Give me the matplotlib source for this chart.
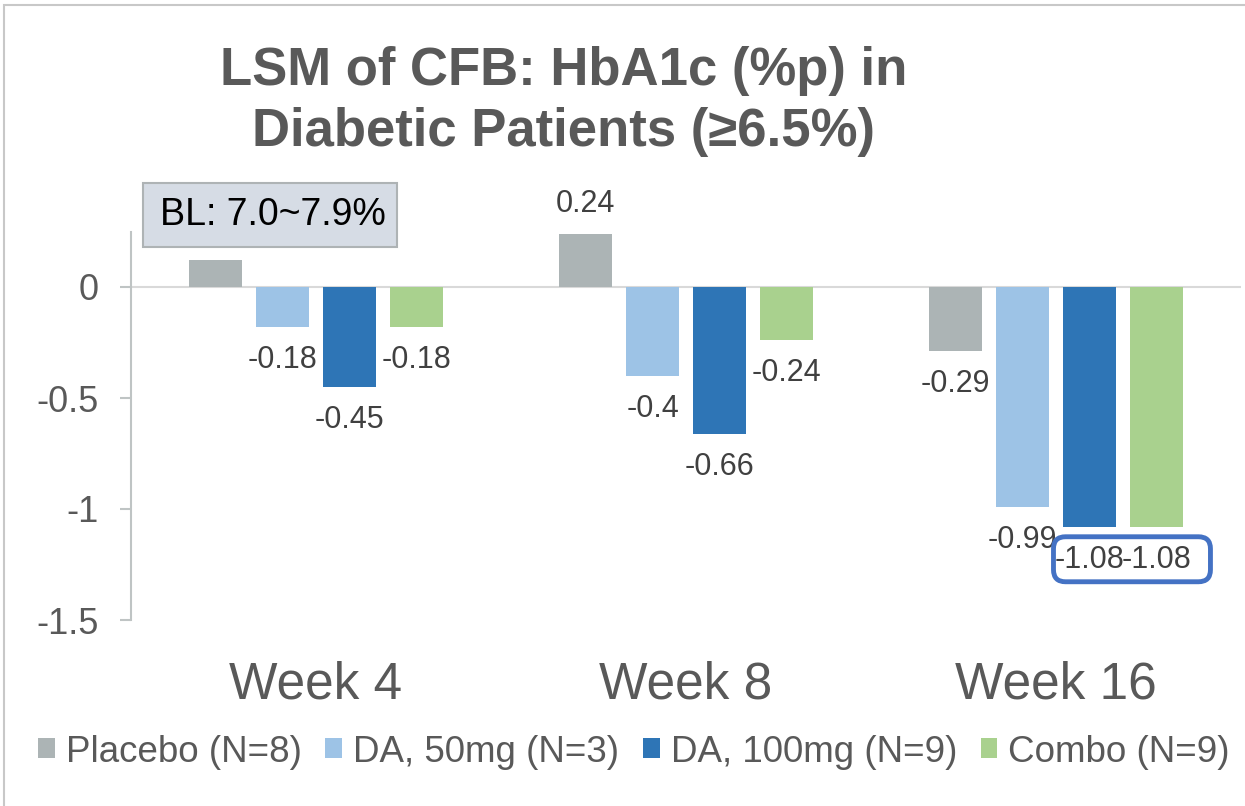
import numpy as np
import matplotlib
matplotlib.use("Agg")
import matplotlib.pyplot as plt
from matplotlib.patches import Rectangle, FancyBboxPatch
from matplotlib.transforms import IdentityTransform

plt.rcParams['font.family'] = ['Liberation Sans', 'DejaVu Sans']
plt.rcParams['axes.unicode_minus'] = False

# data
weeks = ["Week 4", "Week 8", "Week 16"]
series_names = ["Placebo (N=8)", "DA, 50mg (N=3)", "DA, 100mg (N=9)", "Combo (N=9)"]
placebo = [0.12, 0.24, -0.29]
da_50 = [-0.18, -0.4, -0.99]
da_100 = [-0.45, -0.66, -1.08]
combo = [-0.18, -0.24, -1.08]
y_ticks = [0, -0.5, -1, -1.5]
y_tick_labels = ["0", "-0.5", "-1", "-1.5"]
# the week 4 placebo label sits under the BL box in the original, so it is not shown
hidden_labels = [("Placebo (N=8)", "Week 4")]

colors = ['#ACB4B5', '#9DC3E6', '#2E75B6', '#A9D18E']
all_series = [placebo, da_50, da_100, combo]

W, H = 1245, 806
fig = plt.figure(figsize=(W / 100, H / 100), dpi=100)
ax = fig.add_axes([131 / W, 1 - 620 / H, 1110 / W, 388.5 / H])

x = np.arange(len(weeks))
step = 0.181
width = 0.143
centers = []
for i, (vals, name, col) in enumerate(zip(all_series, series_names, colors)):
    pos = x + (i - 1.5) * step
    centers.append(pos)
    ax.bar(pos, vals, width, color=col, label=name, zorder=2)
    for p, v, wk in zip(pos, vals, weeks):
        if (name, wk) in hidden_labels:
            continue
        dy = 21.6 if v >= 0 else -23.8
        ax.annotate(f"{v:g}", (p, v), xytext=(0, dy), textcoords='offset points',
                    ha='center', va='center', fontsize=22, color='#404040', zorder=3)

ax.set_xlim(-0.5, 2.5)
ax.set_ylim(-1.5, 0.25)
ax.set_xticks(x)
ax.set_xticklabels(weeks)
ax.set_yticks(y_ticks)
ax.set_yticklabels(y_tick_labels)
ax.axhline(0, color='#D9D9D9', lw=1.5, zorder=1)

for s in ['top', 'right', 'bottom']:
    ax.spines[s].set_visible(False)
ax.spines['left'].set_color('#BFC4C4')
ax.spines['left'].set_linewidth(1.5)
ax.tick_params(axis='y', length=8, width=1.5, color='#BFC4C4', pad=15,
               labelsize=26, labelcolor='#595959')
ax.tick_params(axis='x', length=0, pad=29, labelsize=37, labelcolor='#595959')

# title (two lines)
fig.text(564 / W, 1 - 85 / H, "LSM of CFB: HbA1c (%p) in", ha='center', va='baseline',
         fontsize=38, fontweight='bold', color='#595959')
fig.text(564 / W, 1 - 146 / H, "Diabetic Patients (≥6.5%)", ha='center', va='baseline',
         fontsize=38, fontweight='bold', color='#595959')

# baseline note box
fig.patches.append(Rectangle((143 / W, 1 - 247 / H), 254 / W, 64 / H, transform=fig.transFigure,
                             facecolor='#D6DCE5', edgecolor='#AEB3B5', lw=1.5, zorder=10))
fig.text(273 / W, 1 - 215 / H, "BL: 7.0~7.9%", ha='center', va='center',
         fontsize=27, color='black', zorder=11)

# highlight box around the week 16 labels
p3 = ax.transData.transform((centers[2][2], da_100[2]))
p4 = ax.transData.transform((centers[3][2], combo[2]))
x0 = p3[0] - 36
x1 = p4[0] + 54
y_top = p3[1] - 10
y_bot = p3[1] - 55
fig.patches.append(FancyBboxPatch((x0, y_bot), x1 - x0, y_top - y_bot,
                                  boxstyle="round,pad=0,rounding_size=12",
                                  transform=IdentityTransform(), facecolor='none',
                                  edgecolor='#4472C4', lw=3.5, zorder=10))

fig.legend(loc='center', bbox_to_anchor=(634 / W, 1 - 752 / H), ncol=4, frameon=False,
           fontsize=26.5, handlelength=0.45, handleheight=0.45, handletextpad=0.3,
           columnspacing=0.65, labelcolor='#595959')

# outer border of the slide
fig.patches.append(Rectangle((4 / W, -0.1), 1.2, 1.1 - 5 / H, transform=fig.transFigure,
                             fill=False, edgecolor='#C8C8C8', lw=1.5, zorder=0))

fig.savefig('out.png', dpi=100)
